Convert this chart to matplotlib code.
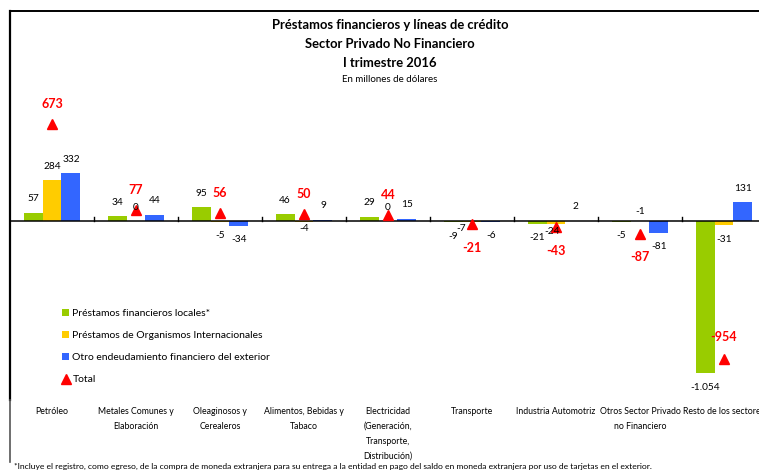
import matplotlib
matplotlib.use("Agg")
import matplotlib.pyplot as plt
from matplotlib.patches import Patch
from matplotlib.lines import Line2D
import numpy as np

plt.rcParams['font.family'] = ['Lato', 'DejaVu Sans']

categories = [
    "Petróleo",
    "Metales Comunes y\nElaboración",
    "Oleaginosos y\nCerealeros",
    "Alimentos, Bebidas y\nTabaco",
    "Electricidad\n(Generación,\nTransporte,\nDistribución)",
    "Transporte",
    "Industria Automotriz",
    "Otros Sector Privado\nno Financiero",
    "Resto de los sectores",
]
locales = [57, 34, 95, 46, 29, -9, -21, -5, -1054]
organismos = [284, 0, -5, -4, 0, -7, -24, -1, -31]
exterior = [332, 44, -34, 9, 15, -6, 2, -81, 131]
total = [673, 77, 56, 50, 44, -21, -43, -87, -954]

series_names = [
    "Préstamos financieros locales*",
    "Préstamos de Organismos Internacionales",
    "Otro endeudamiento financiero del exterior",
]
total_name = "Total"
colors = ["#99CC00", "#FFCC00", "#3366FF"]
red = "#FF0000"

W, H = 759, 472
fig = plt.figure(figsize=(W / 100, H / 100), dpi=100)

# axes placed in pixel terms: left edge 10 px, top 11 px, bottom 400 px
ax_top, ax_bot = 11, 400
ax = fig.add_axes([10 / W, (H - ax_bot) / H, (W - 10) / W, (ax_bot - ax_top) / H])

px_per_unit = 0.1446
zero_px = 221
ax.set_ylim(-(ax_bot - zero_px) / px_per_unit, (zero_px - ax_top) / px_per_unit)
ax.set_xlim(-0.5, (W - 10) / 84 - 0.5)

x = np.arange(len(categories))
bw = 0.226
series = [locales, organismos, exterior]
for k, (vals, c) in enumerate(zip(series, colors)):
    ax.bar(x + (k - 1) * bw, vals, width=bw, color=c, zorder=2)

ax.axhline(0, color="black", lw=1.1, zorder=3)
# category boundary ticks on the zero line
for xb in np.arange(0.5, len(categories) - 0.5, 1.0):
    ax.plot([xb, xb], [0, 4 / px_per_unit], color="black", lw=1, zorder=3)

ax.plot(x, total, linestyle="none", marker="^", color=red, markersize=7, zorder=4)


def fmt(v):
    s = f"{abs(v):,}".replace(",", ".")
    return ("-" if v < 0 else "") + s


# label offsets in points (dx, dy) for crowded spots
label_shift = {
    (1, 5): (-8, 5),
    (1, 6): (-3, 5),
    (1, 7): (0, 17),
    (1, 3): (0, 5),
}
for k, vals in enumerate(series):
    for i, v in enumerate(vals):
        dy = 10 if v >= 0 else -10
        dx, ddy = label_shift.get((k, i), (0, 0))
        ax.annotate(fmt(v), (x[i] + (k - 1) * bw, v), xytext=(dx, dy + ddy),
                    textcoords="offset points", ha="center", va="center",
                    fontsize=7.3, color="black", zorder=5)

for i, v in enumerate(total):
    dy = 14 if v >= 0 else -17
    if i == len(total) - 1:
        dy = 16
    ax.annotate(fmt(v), (x[i], v), xytext=(0, dy), textcoords="offset points",
                ha="center", va="center", fontsize=9, fontweight="bold",
                color=red, zorder=5)

for s in ["right", "bottom"]:
    ax.spines[s].set_visible(False)
ax.spines["left"].set_linewidth(1.6)
ax.spines["top"].set_linewidth(1.4)
ax.set_yticks([])
ax.set_xticks(x)
ax.set_xticklabels(categories, fontsize=6.3, linespacing=1.85)
ax.tick_params(axis="x", length=0, pad=5)

# continuation of the left frame line below the plot
fig.add_artist(Line2D([10 / W, 10 / W], [(H - 462) / H, (H - ax_bot) / H],
                      color="#555555", lw=1.2))

handles = [Patch(facecolor=c, edgecolor="none") for c in colors]
handles.append(Line2D([], [], linestyle="none", marker="^", color=red, markersize=7))
ax.legend(handles, series_names + [total_name], loc="upper left",
          bbox_to_anchor=(62 / W, (H - 309) / H), bbox_transform=fig.transFigure,
          frameon=False, fontsize=7.5, labelspacing=1.22, handlelength=0.7,
          handleheight=0.7, handletextpad=0.3, borderpad=0, borderaxespad=0)

cx = 390 / W
fig.text(cx, 1 - 25 / H, "Préstamos financieros y líneas de crédito", ha="center",
         va="center", fontsize=9.4, fontweight="bold")
fig.text(cx, 1 - 44 / H, "Sector Privado No Financiero", ha="center", va="center",
         fontsize=9.4, fontweight="bold")
fig.text(cx, 1 - 63 / H, "I trimestre 2016", ha="center", va="center",
         fontsize=9.4, fontweight="bold")
fig.text(cx, 1 - 80 / H, "En millones de dólares", ha="center", va="center",
         fontsize=7)

fig.text(14 / W, 1 - 466 / H,
         "*Incluye el registro, como egreso, de la compra de moneda extranjera para su "
         "entrega a la entidad en pago del saldo en moneda extranjera por uso de tarjetas "
         "en el exterior.", ha="left", va="center", fontsize=6.1)

fig.savefig("out.png", dpi=100)
